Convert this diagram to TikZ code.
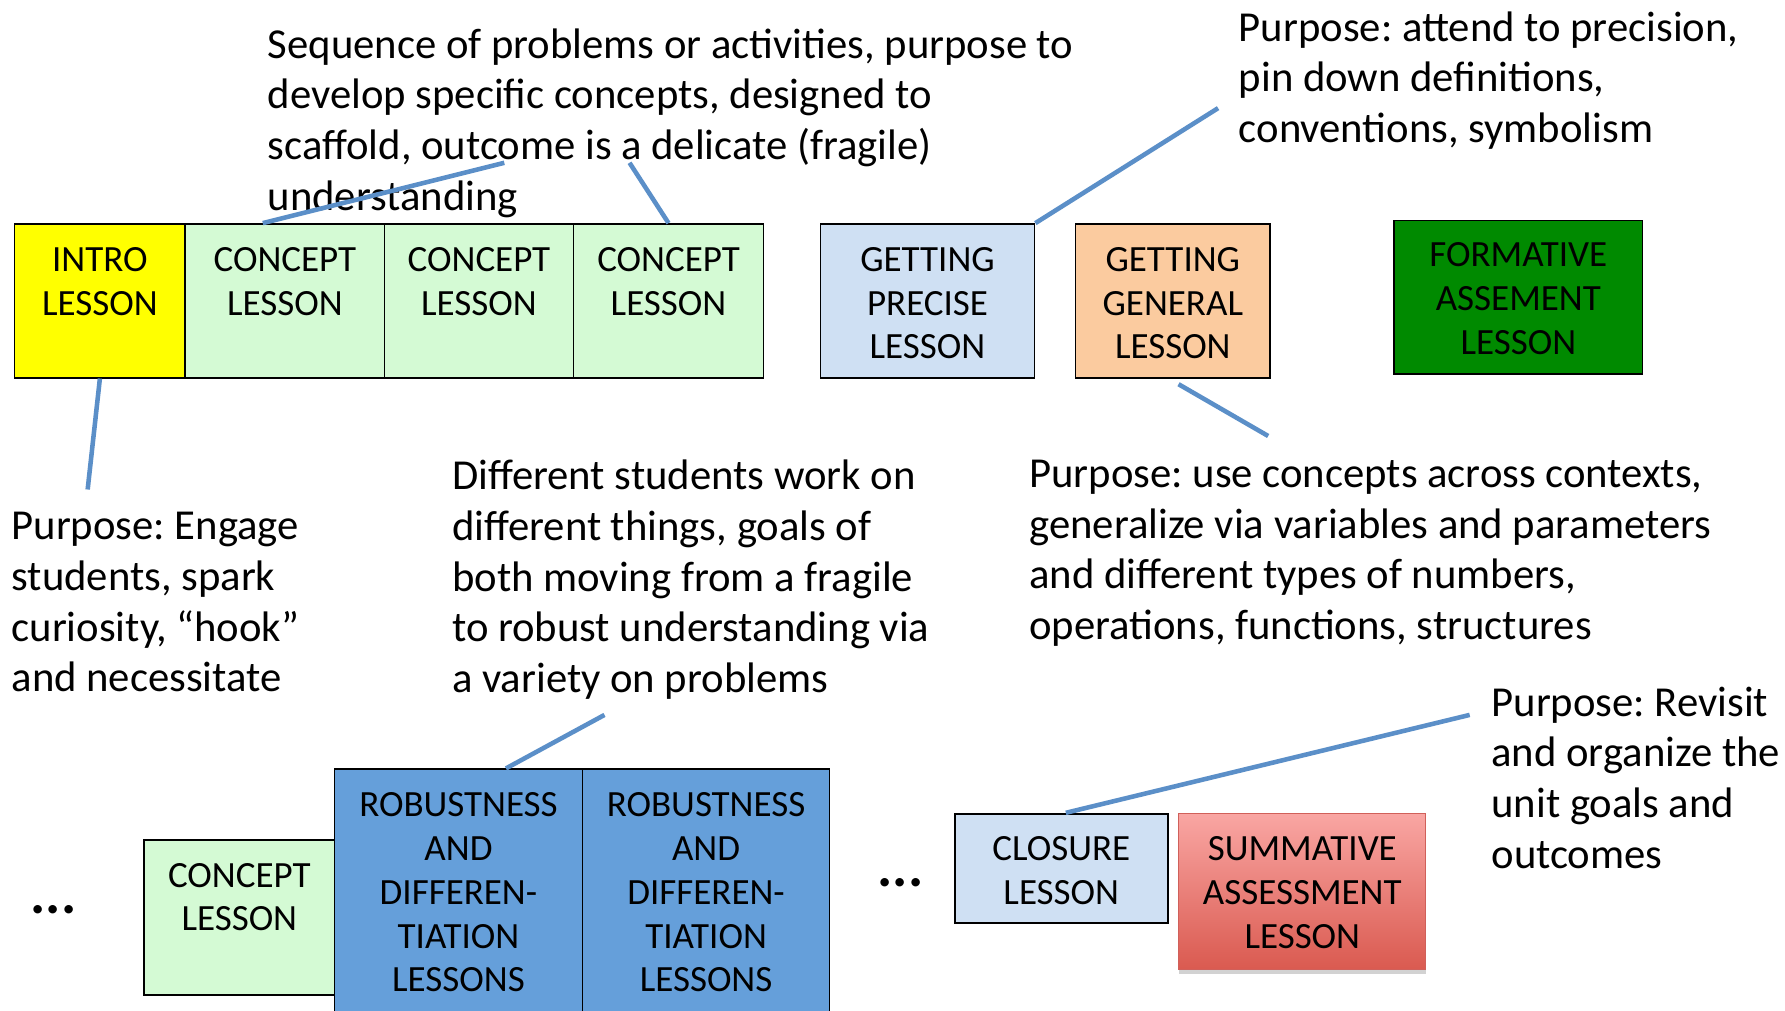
\documentclass[tikz,border=0pt]{standalone}
\usepackage{fontspec}
\setmainfont{Carlito}
\usetikzlibrary{calc,shadows}
\definecolor{introcol}{HTML}{FFFF00}
\definecolor{conceptcol}{HTML}{D4FAD4}
\definecolor{precisecol}{HTML}{CFE0F3}
\definecolor{generalcol}{HTML}{FBCB9F}
\definecolor{formcol}{HTML}{008A00}
\definecolor{robcol}{HTML}{659FDA}
\definecolor{sumtop}{HTML}{F9A6A3}
\definecolor{sumbot}{HTML}{DA5A50}
\definecolor{sumborder}{HTML}{D0605A}
\definecolor{linkblue}{HTML}{5B8FC8}
\frenchspacing
\begin{document}
\begin{tikzpicture}[x=1pt,y=-1pt,
  box/.style={draw=black, line width=1.5pt, anchor=north west, inner sep=0pt},
  lbl/.style={inner sep=0pt, align=center, anchor=north, font=\fontsize{32.5}{38.5}\selectfont},
  note/.style={inner sep=0pt, align=left, anchor=north west, font=\fontsize{37.5}{44.5}\selectfont},
  dots/.style={inner sep=0pt, font=\fontsize{50}{50}\selectfont\bfseries},
  conn/.style={draw=linkblue, line width=4pt}]
\clip (0,0) rectangle (1568,888);
\fill[white] (0,0) rectangle (1568,888);

% top row boxes
\node[box, fill=introcol, minimum width=150pt, minimum height=135pt] (intro) at (12,196) {};
\node[box, fill=conceptcol, minimum width=175pt, minimum height=135pt] (c1) at (162,196) {};
\node[box, fill=conceptcol, minimum width=166pt, minimum height=135pt] (c2) at (337,196) {};
\node[box, fill=conceptcol, minimum width=167pt, minimum height=135pt] (c3) at (503,196) {};
\node[box, fill=precisecol, minimum width=188pt, minimum height=135pt] (prec) at (720,196) {};
\node[box, fill=generalcol, minimum width=171pt, minimum height=135pt] (gen) at (944,196) {};
\node[box, fill=formcol, minimum width=218pt, minimum height=135pt] (form) at (1224,193) {};

\node[lbl] (introT) at ($(intro.north)+(0,21)$) {INTRO\\LESSON};
\node[lbl] (c1T) at ($(c1.north)+(0,21)$) {CONCEPT\\LESSON};
\node[lbl] (c2T) at ($(c2.north)+(0,21)$) {CONCEPT\\LESSON};
\node[lbl] (c3T) at ($(c3.north)+(0,21)$) {CONCEPT\\LESSON};
\node[lbl] (precT) at ($(prec.north)+(0,21)$) {GETTING\\PRECISE\\LESSON};
\node[lbl] (genT) at ($(gen.north)+(0,21)$) {GETTING\\GENERAL\\LESSON};
\node[lbl] (formT) at ($(form.north)+(0,20)$) {FORMATIVE\\ASSEMENT\\LESSON};

% bottom row boxes
\node[box, fill=conceptcol, minimum width=167pt, minimum height=136pt] (c4) at (126,737) {};
\node[box, fill=robcol, minimum width=218pt, minimum height=240pt] (r1) at (293,675) {};
\node[box, fill=robcol, minimum width=217pt, minimum height=240pt] (r2) at (511,675) {};
\node[box, fill=precisecol, minimum width=187pt, minimum height=96pt] (clos) at (838,714) {};
\node[box, draw=sumborder, line width=1pt, top color=sumtop, bottom color=sumbot,
  drop shadow={opacity=0.35, shadow xshift=0pt, shadow yshift=-4pt},
  minimum width=217pt, minimum height=137pt] (summ) at (1035,714) {};

\node[lbl] (c4T) at ($(c4.north)+(0,21)$) {CONCEPT\\LESSON};
\node[lbl] (r1T) at ($(r1.north)+(0,21)$) {ROBUSTNESS\\AND\\DIFFEREN-\\TIATION\\LESSONS};
\node[lbl] (r2T) at ($(r2.north)+(0,21)$) {ROBUSTNESS\\AND\\DIFFEREN-\\TIATION\\LESSONS};
\node[lbl] (closT) at ($(clos.north)+(0,21)$) {CLOSURE\\LESSON};
\node[lbl] (summT) at ($(summ.north)+(0,21)$) {SUMMATIVE\\ASSESSMENT\\LESSON};

\node[dots] (dotsA) at (47,799) {...};
\node[dots] (dotsB) at (791,775) {...};

% annotations
\node[note] (nSeq) at (235,25) {Sequence of problems or activities, purpose to\\develop specific concepts, designed to\\scaffold, outcome is a delicate (fragile)\\understanding};
\node[note] (nPrec) at (1088,10) {Purpose: attend to precision,\\pin down definitions,\\conventions, symbolism};
\node[note] (nIntro) at (10,450) {Purpose: Engage\\students, spark\\curiosity, “hook”\\and necessitate};
\node[note] (nRob) at (397,404) {Different students work on\\different things, goals of\\both moving from a fragile\\to robust understanding via\\a variety on problems};
\node[note] (nGen) at (904,404) {Purpose: use concepts across contexts,\\generalize via variables and parameters\\and different types of numbers,\\operations, functions, structures};
\node[note] (nClos) at (1310,603) {Purpose: Revisit\\and organize the\\unit goals and\\outcomes};

% connector free ends
\coordinate (e1) at (443,143);
\coordinate (e2) at (553,143);
\coordinate (e3) at (1070,95);
\coordinate (e4) at (77,430);
\coordinate (e5) at (1114,383);
\coordinate (e6) at (531,628);
\coordinate (e7) at (1291,628);

\draw[conn] ($(c1.north west)!0.39!(c1.north east)$) -- (e1);
\draw[conn] (c3.north) -- (e2);
\draw[conn] (prec.north east) -- (e3);
\draw[conn] (intro.south) -- (e4);
\draw[conn] ($(gen.south)+(5,5)$) -- (e5);
\draw[conn] ($(r1.north west)!0.69!(r1.north east)$) -- (e6);
\draw[conn] ($(clos.north)+(4,0)$) -- (e7);
\end{tikzpicture}
\end{document}
